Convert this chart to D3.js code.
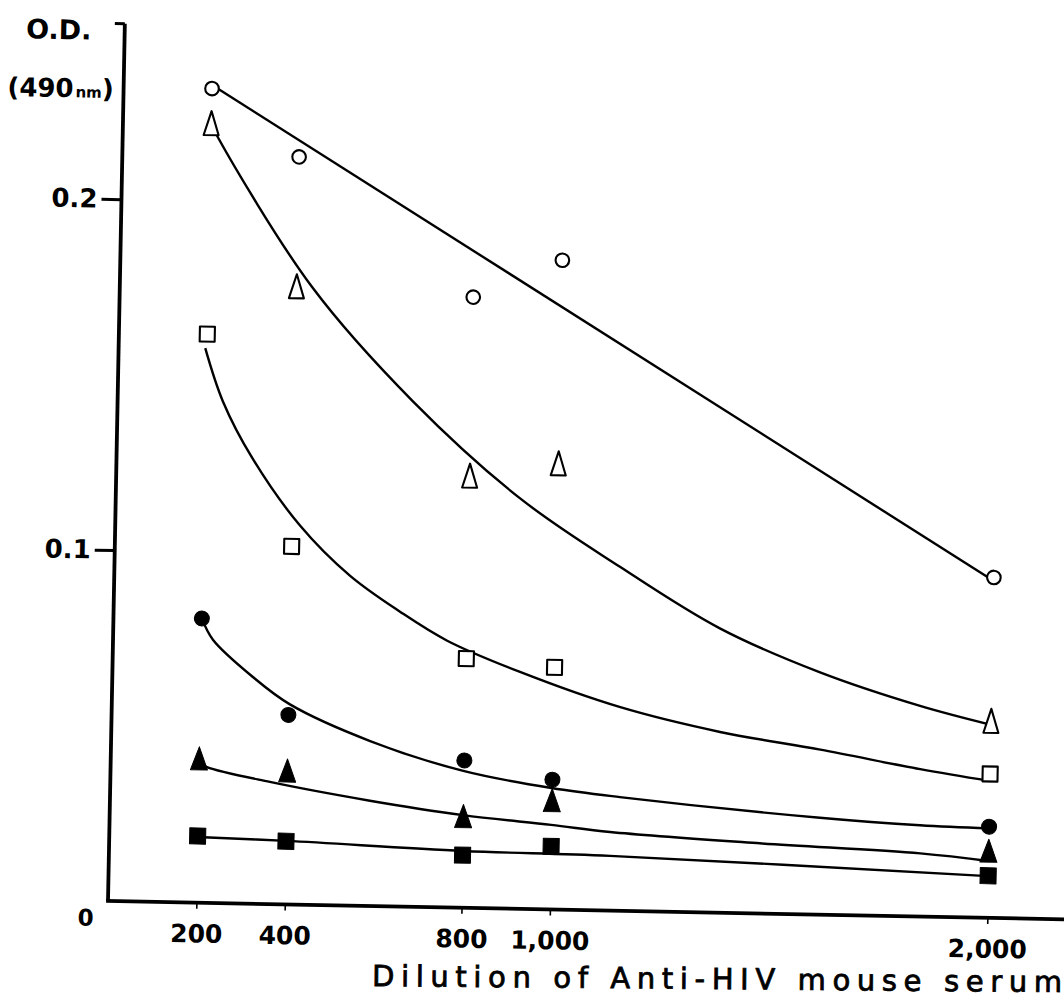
<!DOCTYPE html>
<html>
<head>
<meta charset="utf-8">
<script src="https://cdn.jsdelivr.net/npm/d3@7"></script>
<style>
body { margin: 0; background: #fff; }
svg { display: block; background: #fff; }
text { font-family: "DejaVu Sans", sans-serif; fill: #000; }
</style>
</head>
<body>
<svg width="1064" height="1008"></svg>
<script>
// dilution steps of the serum (x) and O.D. at 490 nm (y)
var dilutions = [200, 400, 800, 1000, 2000];
var yTicks = [0.1, 0.2];

var openCircle     = [0.232, 0.213, 0.174, 0.185, 0.097];
var openTriangle   = [0.222, 0.176, 0.123, 0.127, 0.056];
var openSquare     = [0.162, 0.102, 0.071, 0.069, 0.041];
var filledCircle   = [0.081, 0.054, 0.042, 0.037, 0.026];
var filledTriangle = [0.041, 0.038, 0.026, 0.031, 0.019];
var filledSquare   = [0.019, 0.018, 0.015, 0.018, 0.012];

// hand drawn fitted curves
var fitOpenCircleX = [200, 2000];
var fitOpenCircleY = [0.233, 0.096];
var fitOpenTriangleX = [200, 216, 435, 668, 914, 1145, 1376, 1607, 1837, 2000];
var fitOpenTriangleY = [0.222, 0.218, 0.176, 0.144, 0.117, 0.098, 0.081, 0.069, 0.060, 0.055];
var fitOpenSquareX = [196, 238, 307, 418, 533, 648, 756, 922, 1152, 1381, 1611, 1840, 2000];
var fitOpenSquareY = [0.158, 0.143, 0.127, 0.108, 0.094, 0.084, 0.076, 0.0675, 0.058, 0.0515, 0.047, 0.042, 0.039];
var fitFilledCircleX = [200, 226, 318, 403, 586, 798, 998, 1155, 1613, 1842, 2000];
var fitFilledCircleY = [0.081, 0.075, 0.0646, 0.057, 0.047, 0.039, 0.0346, 0.0324, 0.0276, 0.026, 0.0255];
var fitFilledTriangleX = [200, 218, 361, 588, 799, 999, 1134, 1477, 1844, 2000];
var fitFilledTriangleY = [0.040, 0.0387, 0.0348, 0.030, 0.0264, 0.0241, 0.0224, 0.020, 0.018, 0.0162];
var fitFilledSquareX = [200, 402, 801, 1135, 2000];
var fitFilledSquareY = [0.0187, 0.0181, 0.0162, 0.0156, 0.0119];

var series = [
    { values: openCircle, fitX: fitOpenCircleX, fitY: fitOpenCircleY, shape: "circle", filled: false },
    { values: openTriangle, fitX: fitOpenTriangleX, fitY: fitOpenTriangleY, shape: "triangle", filled: false },
    { values: openSquare, fitX: fitOpenSquareX, fitY: fitOpenSquareY, shape: "square", filled: false },
    { values: filledCircle, fitX: fitFilledCircleX, fitY: fitFilledCircleY, shape: "circle", filled: true },
    { values: filledTriangle, fitX: fitFilledTriangleX, fitY: fitFilledTriangleY, shape: "triangle", filled: true },
    { values: filledSquare, fitX: fitFilledSquareX, fitY: fitFilledSquareY, shape: "square", filled: true }
];

var svg = d3.select("svg");

// the scanned page sits slightly tilted, rotate everything around the origin corner
var ox = 108, oy = 901;
var g = svg.append("g")
    .attr("transform", "rotate(1.1," + ox + "," + oy + ")");

var x = d3.scaleLinear().domain([0, 1000, 2000]).range([108, 550, 987.5]);
var y = d3.scaleLinear().domain([0, 0.25]).range([901, 23.5]);

// axes
var yAxis = g.append("g")
    .attr("transform", "translate(" + x(0) + ",0)")
    .call(d3.axisLeft(y).tickValues(yTicks).tickSize(20).tickSizeOuter(0).tickPadding(4).tickFormat(d3.format(".1f")));
yAxis.select(".domain").remove();
yAxis.selectAll("line").attr("stroke", "#000").attr("stroke-width", 3);
yAxis.selectAll("text")
    .attr("font-size", 26)
    .attr("font-weight", "bold")
    .attr("font-family", "DejaVu Sans");

var xAxis = g.append("g")
    .attr("transform", "translate(0," + y(0) + ")")
    .call(d3.axisBottom(x).tickValues(dilutions).tickSize(6).tickSizeOuter(0).tickPadding(16).tickFormat(d3.format(",")));
xAxis.select(".domain").remove();
xAxis.selectAll("line").attr("stroke", "#000").attr("stroke-width", 1.6);
xAxis.selectAll("text")
    .attr("font-size", 25)
    .attr("font-weight", "bold")
    .attr("font-family", "DejaVu Sans");

// spines
g.append("line")
    .attr("x1", x(0)).attr("y1", y(0))
    .attr("x2", x(0)).attr("y2", y(0.25))
    .attr("stroke", "#000").attr("stroke-width", 3.8);
g.append("line")
    .attr("x1", x(0) - 10).attr("y1", y(0.25))
    .attr("x2", x(0)).attr("y2", y(0.25))
    .attr("stroke", "#000").attr("stroke-width", 3);
g.append("line")
    .attr("x1", x(0) - 1.9).attr("y1", y(0))
    .attr("x2", 1090).attr("y2", y(0))
    .attr("stroke", "#000").attr("stroke-width", 3.8);

g.append("text")
    .attr("x", 86).attr("y", 926)
    .attr("text-anchor", "middle")
    .attr("font-size", 23)
    .attr("font-weight", "bold")
    .text("0");

// y axis title
g.append("text")
    .attr("x", 42).attr("y", 40)
    .attr("text-anchor", "middle")
    .attr("font-size", 27)
    .attr("font-weight", "bold")
    .text("O.D.");

var unit = g.append("text")
    .attr("x", 45).attr("y", 98)
    .attr("text-anchor", "middle")
    .attr("font-size", 26)
    .attr("font-weight", "bold");
unit.append("tspan").text("(490");
unit.append("tspan").attr("font-size", 15).attr("dx", 2).text("nm");
unit.append("tspan").text(")");

// x axis title, tilted a bit less than the plot
svg.append("text")
    .attr("x", 372).attr("y", 986)
    .attr("transform", "rotate(0.5,372,986)")
    .attr("font-size", 29)
    .attr("stroke", "#000")
    .attr("stroke-width", 0.8)
    .attr("textLength", 690)
    .attr("lengthAdjust", "spacing")
    .text("Dilution of Anti-HIV mouse serum");

// fitted curves
var line = d3.line()
    .x(function(d) { return x(d[0]); })
    .y(function(d) { return y(d[1]); })
    .curve(d3.curveCatmullRom.alpha(0.5));

g.append("g")
    .selectAll("path")
    .data(series)
    .enter().append("path")
    .attr("d", function(s) { return line(d3.zip(s.fitX, s.fitY)); })
    .attr("fill", "none")
    .attr("stroke", "#000")
    .attr("stroke-width", 2.4);

// markers
function markerPath(shape, filled) {
    if (shape === "circle") {
        var r = filled ? 7.5 : 6.8;
        return d3.symbol(d3.symbolCircle, Math.PI * r * r)();
    }
    if (shape === "square") {
        return filled ? "M-8,-8H8V8H-8Z" : "M-7.5,-7.5H7.5V7.5H-7.5Z";
    }
    // tall narrow triangle as in the original
    return filled ? "M0,-12L8.5,11L-8.5,11Z" : "M0,-12.5L7.5,11.5L-7.5,11.5Z";
}

series.forEach(function(s) {
    g.append("g")
        .selectAll("path")
        .data(s.values)
        .enter().append("path")
        .attr("transform", function(d, i) { return "translate(" + x(dilutions[i]) + "," + y(d) + ")"; })
        .attr("d", markerPath(s.shape, s.filled))
        .attr("fill", s.filled ? "#000" : "#fff")
        .attr("stroke", "#000")
        .attr("stroke-width", s.filled ? 1 : 2.1)
        .attr("stroke-linejoin", "round");
});
</script>
</body>
</html>
